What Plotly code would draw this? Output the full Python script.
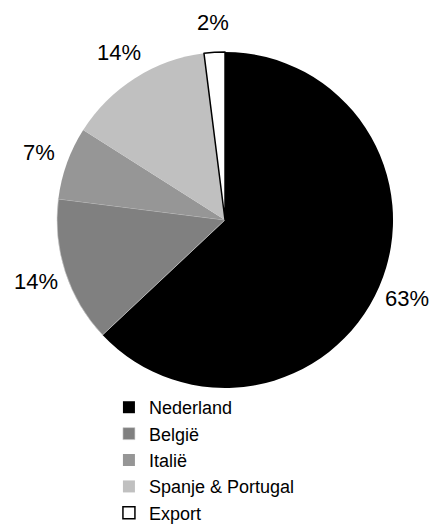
import math
import plotly.graph_objects as go

labels = ["Nederland", "België", "Italië", "Spanje & Portugal", "Export"]
values = [63, 14, 7, 14, 2]
colors = ["#000000", "#808080", "#969696", "#c0c0c0", "#ffffff"]
line_colors = ["#000000", "#d0d0d0", "#969696", "#c0c0c0", "#000000"]
line_widths = [0, 0.6, 0, 0, 1.5]

W, H = 434, 525
dom_x = [0.131, 0.906]
dom_y = [0.261, 0.901]

fig = go.Figure(go.Pie(
    labels=labels,
    values=values,
    sort=False,
    direction="clockwise",
    rotation=0,
    marker=dict(colors=colors, line=dict(color=line_colors, width=line_widths)),
    textinfo="none",
    domain=dict(x=dom_x, y=dom_y),
    automargin=False,
    hoverinfo="label+percent",
))

# percentage labels placed outside each slice, derived from the values
cx = (dom_x[0] + dom_x[1]) / 2 * W
cy = (1 - (dom_y[0] + dom_y[1]) / 2) * H
radius = min((dom_x[1] - dom_x[0]) * W, (dom_y[1] - dom_y[0]) * H) / 2
label_dist = radius * 1.18
total = sum(values)
cum = 0
for v in values:
    mid = (cum + v / 2) / total * 2 * math.pi
    cum += v
    px = cx + label_dist * math.sin(mid)
    py = cy - label_dist * math.cos(mid)
    fig.add_annotation(
        x=px / W, y=1 - py / H, xref="paper", yref="paper",
        text=f"{v / total * 100:.0f}%", showarrow=False,
        xanchor="center", yanchor="middle",
        font=dict(family="Liberation Sans, Arial, sans-serif", size=22, color="#000000"),
    )

fig.update_layout(
    width=W,
    height=H,
    margin=dict(l=0, r=0, t=0, b=0, autoexpand=False),
    paper_bgcolor="white",
    plot_bgcolor="white",
    showlegend=True,
    legend=dict(
        x=0.251, y=0.259, xanchor="left", yanchor="top",
        font=dict(family="Liberation Sans, Arial, sans-serif", size=18, color="#000000"),
        orientation="v",
        traceorder="normal",
        itemclick=False,
    ),
)

fig.write_html("out.html")
